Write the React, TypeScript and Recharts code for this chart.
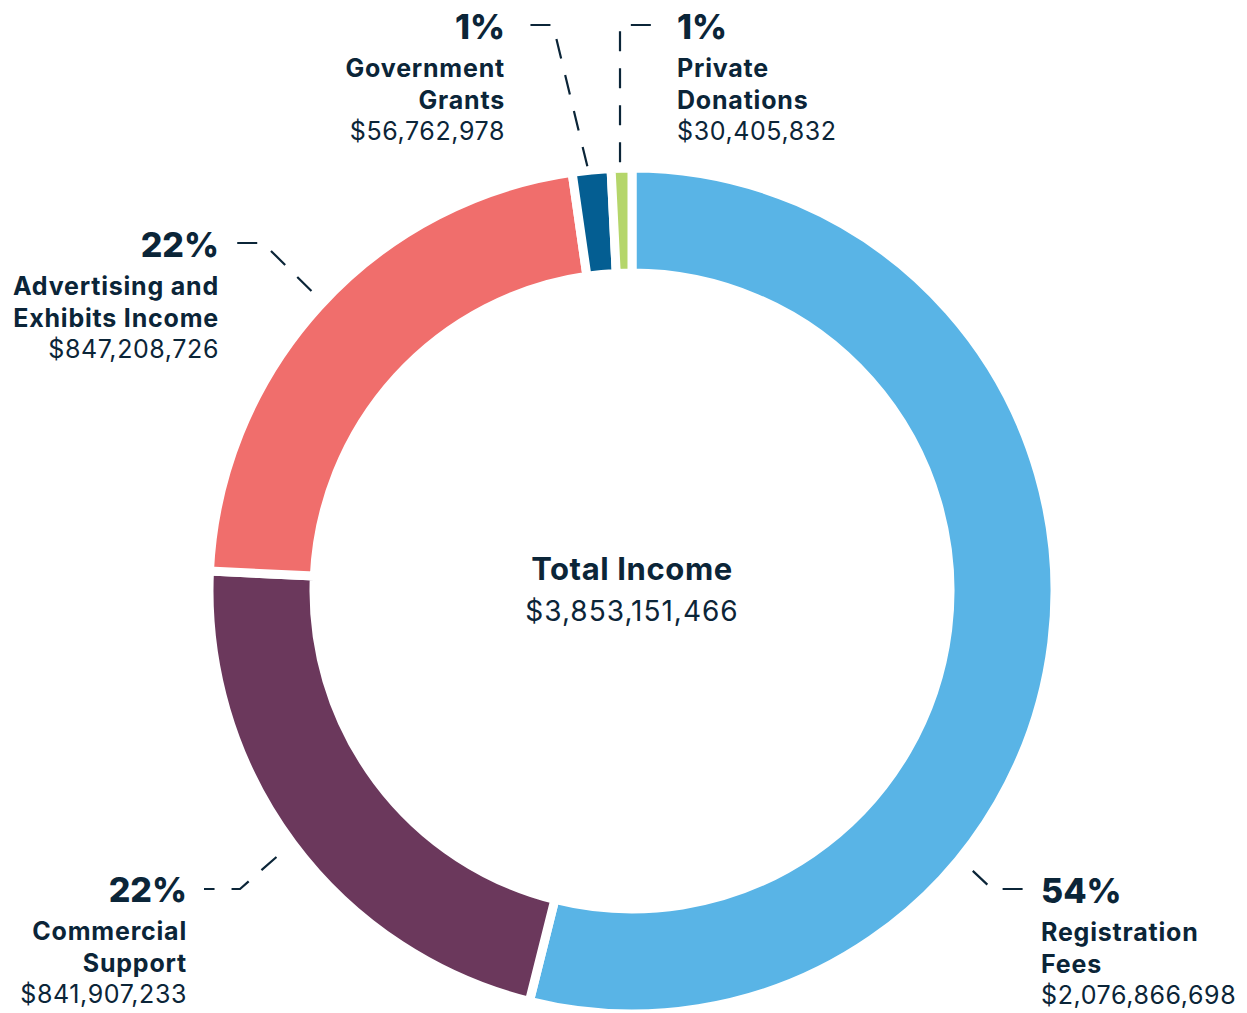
import { PieChart, Pie, Cell } from "recharts";

const categories = [
  "Registration Fees",
  "Commercial Support",
  "Advertising and Exhibits Income",
  "Government Grants",
  "Private Donations",
];
const amounts = [2076866698, 841907233, 847208726, 56762978, 30405832];
const nameLines = [
  ["Registration", "Fees"],
  ["Commercial", "Support"],
  ["Advertising and", "Exhibits Income"],
  ["Government", "Grants"],
  ["Private", "Donations"],
];
const totalTitle = "Total Income";
const totalIncome = 3853151466;

const colors = ["#59b4e6", "#6b385c", "#f06e6c", "#045e92", "#b5d66a"];
const ink = "#0b2538";
const font = "Inter, 'Noto Sans', sans-serif";

// hand placed callouts: line leaves the ring at `angle`, bends at elbow, stops at end
const callouts = [
  { angle: -39.4, gap: 18, elbow: [992, 889], end: [1024, 889], x: 1041, y: 903, anchor: "start" },
  { angle: -143.2, gap: 21, elbow: [240, 889], end: [204, 889], x: 187, y: 902, anchor: "end" },
  { angle: 136.9, gap: 16, elbow: [263, 243], end: [236, 243], x: 219, y: 257, anchor: "end" },
  { angle: 96.0, gap: 4, elbow: [553, 25], end: [517, 25], x: 505, y: 39, anchor: "end" },
  { angle: 91.6, gap: 6, elbow: [620, 25], end: [655, 25], x: 677, y: 39, anchor: "start" },
];

const data = categories.map((name, i) => ({ name, value: amounts[i] }));
const money = (v: number) => "$" + v.toLocaleString("en-US");

const renderCallout = (props: any) => {
  const { cx, cy, outerRadius, percent, index, value } = props;
  const c = callouts[index];
  const rad = (c.angle * Math.PI) / 180;
  const r = outerRadius + c.gap;
  const sx = cx + r * Math.cos(rad);
  const sy = cy - r * Math.sin(rad);
  const lines = nameLines[index];
  return (
    <g key={`callout-${index}`}>
      <polyline
        points={`${sx},${sy} ${c.elbow[0]},${c.elbow[1]} ${c.end[0]},${c.end[1]}`}
        fill="none"
        stroke={ink}
        strokeWidth={2.2}
        strokeDasharray="20 17"
      />
      <text x={c.x} y={c.y} textAnchor={c.anchor} fill={ink} fontFamily={font} fontWeight={800} fontSize={34}>
        {Math.round(percent * 100)}%
      </text>
      <text x={c.x} y={c.y + 38} textAnchor={c.anchor} fill={ink} fontFamily={font} fontWeight={700} fontSize={25} letterSpacing={0.8}>
        {lines[0]}
      </text>
      <text x={c.x} y={c.y + 70} textAnchor={c.anchor} fill={ink} fontFamily={font} fontWeight={700} fontSize={25} letterSpacing={0.8}>
        {lines[1]}
      </text>
      <text x={c.x} y={c.y + 101} textAnchor={c.anchor} fill={ink} fontFamily={font} fontWeight={400} fontSize={25} letterSpacing={0.6}>
        {money(value)}
      </text>
      {index === 0 && (
        <g>
          <text x={cx} y={cy - 11} textAnchor="middle" fill={ink} fontFamily={font} fontWeight={700} fontSize={31} letterSpacing={0.6}>
            {totalTitle}
          </text>
          <text x={cx} y={cy + 30} textAnchor="middle" fill={ink} fontFamily={font} fontWeight={400} fontSize={28} letterSpacing={1}>
            {money(totalIncome)}
          </text>
        </g>
      )}
    </g>
  );
};

export default function App() {
  return (
    <div style={{ position: "absolute", left: 0, top: 0, width: 1247, height: 1013, background: "#fff" }}>
      <PieChart width={1247} height={1013} margin={{ top: 0, right: 0, bottom: 0, left: 0 }}>
        <Pie
          data={data}
          dataKey="value"
          nameKey="name"
          cx={632}
          cy={591}
          innerRadius={318}
          outerRadius={423}
          startAngle={90}
          endAngle={-270}
          stroke="#fff"
          strokeWidth={9}
          label={renderCallout}
          labelLine={false}
          isAnimationActive={false}
        >
          {data.map((entry, index) => (
            <Cell key={`cell-${index}`} fill={colors[index]} />
          ))}
        </Pie>
      </PieChart>
    </div>
  );
}
